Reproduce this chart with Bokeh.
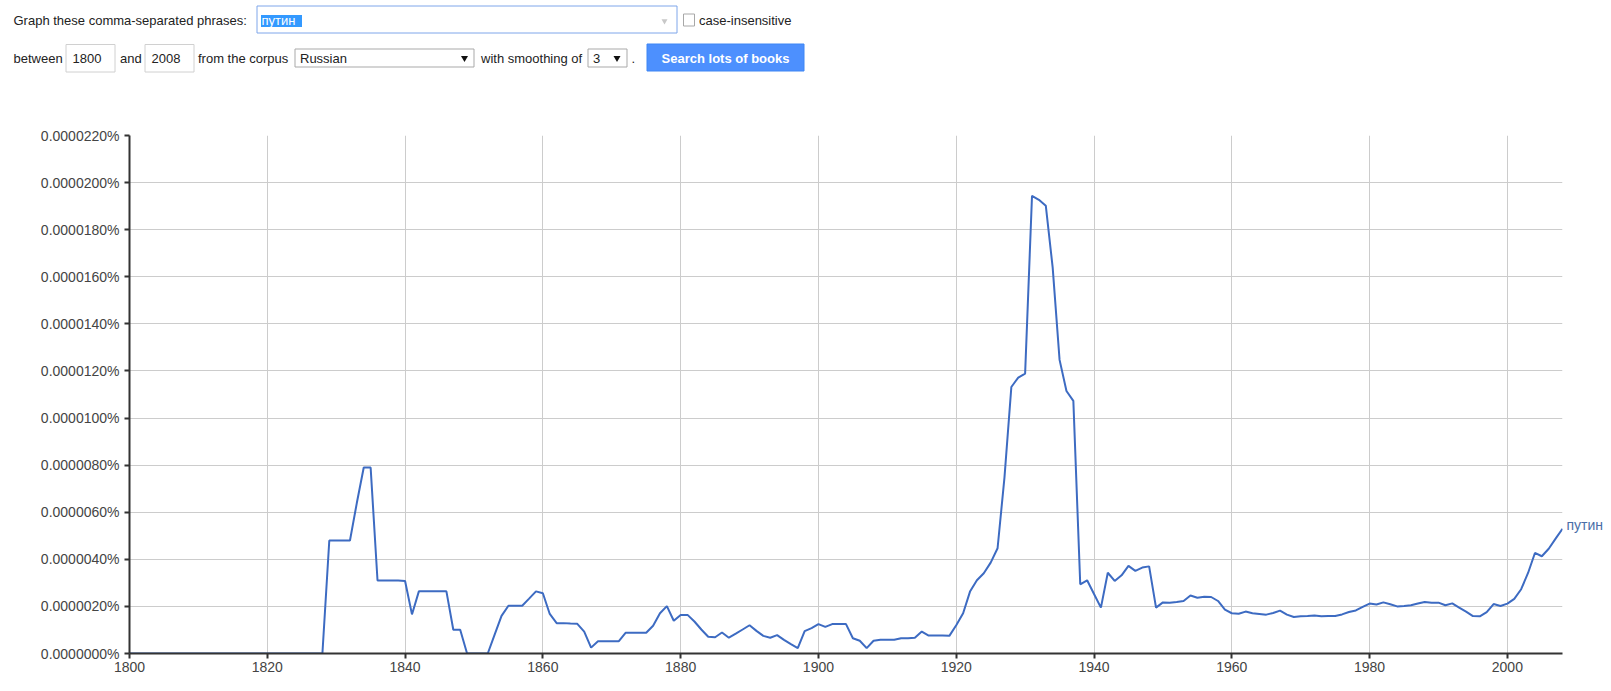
import numpy as np
from bokeh.plotting import figure
from bokeh.layouts import column
from bokeh.models import (Range1d, FixedTicker, CustomJSTickFormatter, LinearAxis, ColumnDataSource)
from bokeh.core.properties import value
from bokeh.embed import file_html
from bokeh.resources import INLINE

# ---------------- data ----------------
series_name = "путин"
start_year = 1800
end_year = 2008
# frequency in units of 1e-7 percent, one value per year 1800..2008
freq_e7 = (
    [0] * 29 +                                                  # 1800-1828
    [48, 48, 48, 48, 64, 79, 79, 31, 31, 31, 31,                # 1829-1839
     30.8, 16.6, 26.4, 26.4, 26.4, 26.4, 26.4, 10.1, 10.1, 0,   # 1840-1849
     0, 0, 0, 8, 16, 20.3, 20.3, 20.3, 23.3, 26.4,              # 1850-1859
     25.6, 16.8, 12.9, 12.9, 12.7, 12.6, 9.3, 2.5, 5.2, 5.2,    # 1860-1869
     5.2, 5.2, 8.8, 8.8, 8.8, 8.8, 11.8, 17.1, 20.1, 13.9,      # 1870-1879
     16.4, 16.4, 13.6, 10.2, 7.1, 6.9, 8.9, 6.7, 8.4, 10.2,     # 1880-1889
     12.0, 9.6, 7.5, 6.7, 7.8, 5.8, 4.0, 2.3, 9.5, 10.8,        # 1890-1899
     12.5, 11.3, 12.5, 12.5, 12.5, 6.5, 5.4, 2.3, 5.4, 5.8,     # 1900-1909
     5.8, 5.8, 6.5, 6.5, 6.7, 9.3, 7.6, 7.6, 7.6, 7.5,          # 1910-1919
     12, 17.1, 26.3, 31.1, 34.1, 38.6, 44.7, 74.7, 113.2, 117.2,  # 1920-1929
     118.9, 194.4, 192.7, 190.2, 163.9, 124.7, 111.5, 107.3, 29.4, 31.1,  # 1930-1939
     25.3, 19.5, 34.3, 30.8, 33.2, 37.2, 35.1, 36.5, 37.0, 19.5,  # 1940-1949
     21.7, 21.6, 21.9, 22.3, 24.6, 23.7, 24.1, 24.0, 22.3, 18.6,  # 1950-1959
     17.1, 16.9, 17.8, 17.1, 16.8, 16.5, 17.2, 18.2, 16.5, 15.5,  # 1960-1969
     15.8, 15.9, 16.1, 15.8, 15.9, 15.9, 16.6, 17.6, 18.3, 19.8,  # 1970-1979
     21.2, 20.8, 21.7, 20.9, 20.0, 20.2, 20.5, 21.2, 21.9, 21.6,  # 1980-1989
     21.6, 20.5, 21.3, 19.5, 17.8, 15.9, 15.8, 17.6, 21.0, 20.2,  # 1990-1999
     21.2, 23.2, 27.3, 34.2, 42.7, 41.3, 44.5, 48.8, 53.0]        # 2000-2008
)
x_ticks = [1800, 1820, 1840, 1860, 1880, 1900, 1920, 1940, 1960, 1980, 2000]
y_ticks_e7 = [0, 20, 40, 60, 80, 100, 120, 140, 160, 180, 200, 220]

years = list(range(start_year, end_year + 1))
assert len(years) == len(freq_e7)
freq_pct = [v * 1e-7 for v in freq_e7]
y_ticks = [t * 1e-7 for t in y_ticks_e7]

FONT = "Liberation Sans"
W = 1611
H_HEAD = 100
H_CHART = 583
B_TOP, B_BOTTOM = 35, 30

# ---------------- header (form) ----------------
h = figure(width=W, height=H_HEAD, x_range=Range1d(0, W), y_range=Range1d(H_HEAD, 0),
           output_backend="svg", toolbar_location=None, min_border=0)
h.axis.visible = False
h.grid.visible = False
h.outline_line_color = None
h.background_fill_color = "white"
h.border_fill_color = "white"

def txt(x, y, s, color="#222222", size="13px", bold=False, align="left"):
    h.text(x=[x], y=[y], text=[s], text_font=value(FONT), text_font_size=size,
           text_color=color, text_baseline="middle", text_align=align,
           text_font_style="bold" if bold else "normal")

def box(l, r, t, b, fill="white", line="#d0d0d0", lw=1):
    h.quad(left=[l], right=[r], top=[t], bottom=[b], fill_color=fill,
           line_color=line, line_width=lw)

row1 = 19.5
row2 = 57.5
txt(13, row1, "Graph these comma-separated phrases:")
box(256.5, 676.5, 5.5, 32.5, line="#7ea6ea")
box(260.5, 301.5, 14.5, 26.5, fill="#3399ff", line=None)
txt(261, row1 + 0.5, "путин", color="white")
h.scatter(x=[664], y=[row1 + 1], marker="inverted_triangle", size=6,
          fill_color="#c8c8c8", line_color=None)
box(683, 694, 13.5, 25.5, line="#a8a8a8")
txt(698.5, row1, "case-insensitive")

txt(13, row2, "between")
box(65.5, 114.5, 44, 71.5)
txt(72, row2, "1800")
txt(119.5, row2, "and")
box(144.5, 193.5, 44, 71.5)
txt(151, row2, "2008")
txt(197.5, row2, "from the corpus")
box(294.5, 473.5, 48.5, 66.5, line="#a9a9a9")
txt(299.5, row2, "Russian")
h.scatter(x=[464], y=[row2], marker="inverted_triangle", size=7,
          fill_color="#111111", line_color=None)
txt(480.5, row2, "with smoothing of")
box(587.5, 626.5, 48.5, 66.5, line="#a9a9a9")
txt(592.5, row2, "3")
h.scatter(x=[616.5], y=[row2], marker="inverted_triangle", size=7,
          fill_color="#111111", line_color=None)
txt(631, row2, ".")
box(646.5, 803.5, 43.5, 70.5, fill="#4d90fe", line="#3f86f4")
txt(725, row2, "Search lots of books", color="white", bold=True, align="center")

# ---------------- chart ----------------
p = figure(width=W, height=H_CHART, x_range=Range1d(start_year, end_year),
           y_range=Range1d(y_ticks[0], y_ticks[-1]),
           output_backend="svg", toolbar_location=None,
           min_border_left=129, min_border_right=49,
           min_border_top=B_TOP, min_border_bottom=B_BOTTOM)
p.outline_line_color = None
p.background_fill_color = "white"
p.border_fill_color = "white"

src = ColumnDataSource(dict(year=years, freq=freq_pct))
p.line("year", "freq", source=src, line_color="#3d6bc2", line_width=2)

for ax in (p.xaxis[0], p.yaxis[0]):
    ax.axis_line_color = "#333333"
    ax.axis_line_width = 2
    ax.major_tick_line_color = "#333333"
    ax.major_tick_line_width = 2
    ax.major_tick_in = 0
    ax.major_tick_out = 5
    ax.minor_tick_line_color = None
    ax.major_label_text_font = FONT
    ax.major_label_text_font_size = "14px"
    ax.major_label_text_color = "#444444"

p.xaxis.ticker = FixedTicker(ticks=x_ticks)
p.xaxis.major_label_standoff = 3
p.yaxis.ticker = FixedTicker(ticks=y_ticks)
p.yaxis.major_label_standoff = 5
p.yaxis.formatter = CustomJSTickFormatter(code="return tick.toFixed(7) + '%';")

p.xgrid.ticker = FixedTicker(ticks=x_ticks)
p.ygrid.ticker = FixedTicker(ticks=y_ticks)
p.xgrid.grid_line_color = "#cccccc"
p.ygrid.grid_line_color = "#cccccc"
p.xgrid.grid_line_width = 1
p.ygrid.grid_line_width = 1

# series label at the line's end, drawn as a right-hand axis label,
# lifted a few pixels above the last point (as in the original)
frame_h = H_CHART - B_TOP - B_BOTTOM
lift = 4 * (y_ticks[-1] - y_ticks[0]) / frame_h
lab_axis = LinearAxis(ticker=FixedTicker(ticks=[freq_pct[-1] + lift]),
                      formatter=CustomJSTickFormatter(args=dict(name=series_name),
                                                      code="return name;"))
lab_axis.axis_line_color = None
lab_axis.major_tick_line_color = None
lab_axis.minor_tick_line_color = None
lab_axis.major_tick_in = 0
lab_axis.major_tick_out = 0
lab_axis.major_label_standoff = 4
lab_axis.major_label_text_font = FONT
lab_axis.major_label_text_font_size = "14px"
lab_axis.major_label_text_color = "#4a6ea8"
p.add_layout(lab_axis, "right")

for fig in (h, p):
    if "frame_align" in fig.properties():
        fig.frame_align = False

layout = column(h, p, spacing=0)
open("out.html", "w").write(file_html(layout, INLINE))
